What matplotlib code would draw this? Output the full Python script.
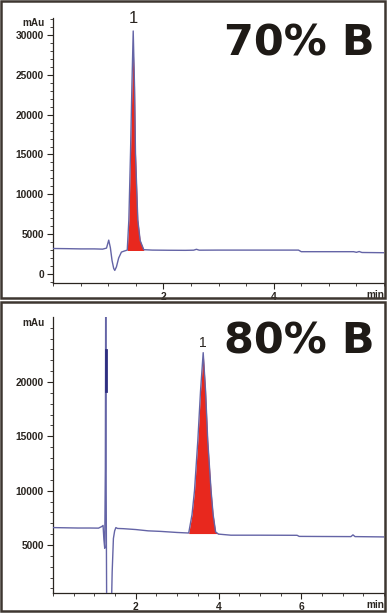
import matplotlib
matplotlib.use("Agg")
import matplotlib.pyplot as plt
from matplotlib.patches import Rectangle
from matplotlib.ticker import MultipleLocator
import matplotlib.transforms as mtransforms

# ---------------------------------------------------------------------------
# Data (time in min, signal in mAu)
# ---------------------------------------------------------------------------

# 70% B run
top_t = [0.0, 0.25, 0.5, 0.75, 0.9, 0.97, 1.01, 1.04, 1.07, 1.10, 1.12, 1.15,
         1.19, 1.24, 1.30, 1.346, 1.375, 1.405, 1.43, 1.454, 1.478, 1.495, 1.537,
         1.58, 1.645, 1.8, 2.1, 2.4, 2.55, 2.6, 2.65, 3.0, 3.5, 4.0,
         4.45, 4.5, 5.0, 5.45, 5.5, 5.55, 5.6, 6.0]
top_v = [3200, 3180, 3150, 3150, 3120, 3250, 4250, 3300, 1700, 700, 450, 900,
         2000, 2750, 2900, 3000, 6800, 15200, 23500, 30500, 23500, 15200, 6800,
         4200, 3050, 3000, 2980, 2970, 2990, 3100, 2990, 3000, 3000, 3000,
         3000, 2800, 2800, 2800, 2720, 2820, 2700, 2670]
top_peak_t = [1.346, 1.375, 1.405, 1.43, 1.454, 1.478, 1.495, 1.537, 1.58, 1.645]
top_peak_v = [3000, 6800, 15200, 23500, 28500, 23500, 15200, 6800, 4200, 3050]
top_peak_base = 2950

# 80% B run
bot_t = [0.0, 0.3, 0.6, 0.9, 1.1, 1.18, 1.21, 1.23, 1.25, 1.265, 1.275, 1.285,
         1.30, 1.40, 1.43, 1.46, 1.49, 1.52, 1.56, 1.7, 2.0, 2.3, 2.6, 3.0,
         3.28, 3.36, 3.42, 3.50, 3.566, 3.63, 3.687, 3.74, 3.82, 3.87, 3.93,
         4.0, 4.3, 5.0, 5.9, 5.95, 6.5, 7.2, 7.25, 7.3, 8.0]
bot_v = [6600, 6580, 6560, 6560, 6550, 6700, 6800, 5500, 4700, 12000, 30000, 10000,
         -3000, -3000, 2500, 5600, 6300, 6600, 6520, 6500, 6420, 6300, 6250, 6150,
         6100, 7800, 10000, 14600, 19200, 22700, 19200, 14600, 10000, 7800, 6200,
         6000, 5900, 5900, 5890, 5790, 5780, 5770, 5930, 5770, 5740]
bot_peak_t = [3.28, 3.36, 3.42, 3.50, 3.566, 3.63, 3.687, 3.74, 3.82, 3.87, 3.93, 4.0]
bot_peak_v = [6100, 7800, 10000, 14600, 19200, 22700, 19200, 14600, 10000, 7800, 6200, 6000]
bot_peak_base = 6050
spike_t = [1.275, 1.275]
spike_v = [19200, 22900]

panels = [
    dict(t=top_t, v=top_v, pt=top_peak_t, pv=top_peak_v, base=top_peak_base,
         xlim=(0, 6), ylim=(-1130, 32130), yticks=[0, 5000, 10000, 15000, 20000, 25000, 30000],
         xticks=[2, 4], peak_at=1.454, title="70% B", mau=31500),
    dict(t=bot_t, v=bot_v, pt=bot_peak_t, pv=bot_peak_v, base=bot_peak_base,
         xlim=(0, 8), ylim=(580, 25980), yticks=[5000, 10000, 15000, 20000],
         xticks=[2, 4, 6], peak_at=3.63, title="80% B", mau=25400),
]

LINE = "#6464a6"
RED = "#e8281e"
FRAME = "#3d3630"
TXT = "#2a2520"

W, H = 389, 613
fig = plt.figure(figsize=(W / 100, H / 100), dpi=100)

# axes rectangles in pixels: (left, top, right, bottom)
boxes = [(53, 18, 384, 283), (53, 317, 384, 593)]
frames = [(1, 1, 385, 298), (1, 302, 385, 611)]
label_y = [23, 347]
title_base = [55, 353]
one_size = [12, 10]

for i, p in enumerate(panels):
    l, t, r, b = boxes[i]
    ax = fig.add_axes([l / W, 1 - b / H, (r - l) / W, (b - t) / H])
    ax.fill_between(p["pt"], p["base"], p["pv"], color=RED, lw=0, zorder=2)
    ax.plot(p["t"], p["v"], color=LINE, lw=1.0, zorder=3)
    if i == 1:
        ax.plot(spike_t, spike_v, color="#2e2e80", lw=2.0, zorder=4)
    ax.set_xlim(*p["xlim"])
    ax.set_ylim(*p["ylim"])

    for s in ["top", "right"]:
        ax.spines[s].set_visible(False)
    for s in ["left", "bottom"]:
        ax.spines[s].set_color(TXT)
        ax.spines[s].set_linewidth(0.9)

    ax.set_yticks(p["yticks"])
    ax.set_yticklabels([str(v) for v in p["yticks"]])
    ax.yaxis.set_minor_locator(MultipleLocator(1000))
    ax.set_xticks(p["xticks"])
    ax.set_xticklabels([str(v) for v in p["xticks"]])
    ax.xaxis.set_minor_locator(MultipleLocator(0.5))
    ax.tick_params(which="major", length=4.5, width=0.8, color=TXT, pad=2,
                   labelsize=7.4, labelcolor=TXT)
    ax.tick_params(which="minor", length=2.2, width=0.6, color=TXT)
    for lab in ax.get_xticklabels() + ax.get_yticklabels():
        lab.set_fontweight("bold")
        lab.set_family("Liberation Sans")

    # axis unit labels
    ax.text(-0.025, p["mau"], "mAu",
            transform=mtransforms.blended_transform_factory(ax.transAxes, ax.transData),
            ha="right", va="center", fontsize=7.2, fontweight="bold", color=TXT,
            family="Liberation Sans")
    ax.text(1.0, -0.045, "min", transform=ax.transAxes, ha="right", va="center",
            fontsize=7.2, fontweight="bold", color=TXT, family="Liberation Sans")

    # peak number
    yb = (b - label_y[i]) / (b - t)
    ax.text(p["peak_at"], yb, "1",
            transform=mtransforms.blended_transform_factory(ax.transData, ax.transAxes),
            ha="center", va="baseline", fontsize=one_size[i], color=TXT,
            family="Liberation Sans", clip_on=False)

    fig.text(375 / W, 1 - title_base[i] / H, p["title"], ha="right", va="baseline",
             fontsize=31, fontweight="bold", color="#1e1a16", family="DejaVu Sans")

    fl, ft, fr, fb = frames[i]
    fig.add_artist(Rectangle((fl / W, 1 - fb / H), (fr - fl) / W, (fb - ft) / H,
                             transform=fig.transFigure, fill=False, ec=FRAME, lw=1.8))

fig.savefig("out.png", dpi=100)
